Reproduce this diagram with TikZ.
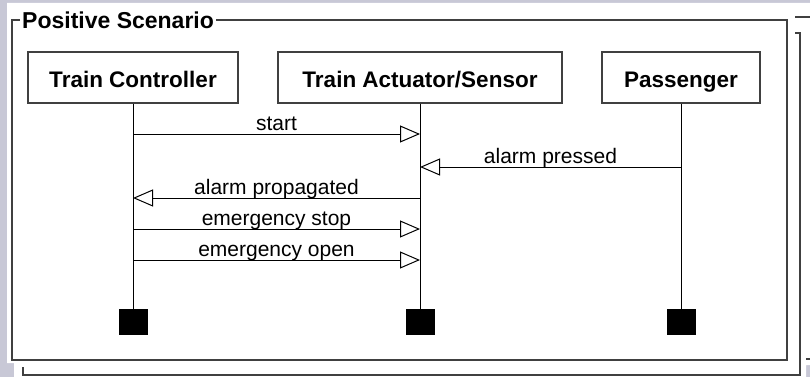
\documentclass[tikz,border=0pt]{standalone}
\usepackage{fontspec}
\setmainfont{Liberation Sans}
\usetikzlibrary{arrows.meta}

\definecolor{screengray}{RGB}{200,200,214}
\definecolor{framegray}{RGB}{64,64,64}

\begin{document}
\begin{tikzpicture}[x=1pt,y=1pt,
  lifebox/.style={draw=framegray,line width=1.2pt,minimum height=51pt,inner sep=0pt,
    text height=19.6pt,text depth=0pt,font=\fontsize{22.5}{27}\selectfont\bfseries},
  endbox/.style={fill=black,minimum width=29pt,minimum height=26pt,inner sep=0pt},
  lifeline/.style={line width=1pt},
  msg/.style={line width=1pt,-{Triangle[open,length=20pt,width=17pt]}},
  msglabel/.style={anchor=base,yshift=4pt,inner sep=0pt,font=\fontsize{21}{25}\selectfont},
  frameline/.style={draw=framegray,line width=1.2pt}]
\useasboundingbox (0,0) rectangle (810,-377);

\fill[screengray] (0,0) rectangle (810,-377);
\fill[white] (7,-3) -- (810,-3) -- (810,-365) -- (806,-365) -- (806,-377)
  -- (14,-377) -- (14,-363) -- (7,-363) -- cycle;

\node[anchor=base west,inner xsep=2pt,inner ysep=0pt,
  font=\fontsize{23}{27}\selectfont\bfseries] (title) at (20,-28.3) {Positive Scenario};
\coordinate (frame-nw) at (12,-20);
\coordinate (frame-se) at (787,-360);
\draw[frameline] (title.west |- frame-nw) -- (frame-nw) |- (frame-se) |- (title.east |- frame-nw);

\draw[frameline] (23,-367) |- (800,-375) |- (795,-33);
\draw[frameline] (795,-17) -- (810,-17);
\draw[frameline] (806,-359) -- (810,-359);

\node[lifebox,minimum width=210pt] (ctrl) at (133,-77.5) {Train Controller};
\node[lifebox,minimum width=284pt] (act) at (420,-77.5) {Train Actuator/Sensor};
\node[lifebox,minimum width=158pt] (pass) at (681,-77.5) {Passenger};

\node[endbox] (ctrl-end) at (133,-322) {};
\node[endbox] (act-end) at (420,-322) {};
\node[endbox] (pass-end) at (681,-322) {};

\draw[lifeline] (ctrl) -- (ctrl-end);
\draw[lifeline] (act) -- (act-end);
\draw[lifeline] (pass) -- (pass-end);

\coordinate (ctrl-start) at (133,-134);
\coordinate (act-start) at (420,-134);
\draw[msg] (ctrl-start) -- node[msglabel] {start} (act-start);

\coordinate (pass-alarm) at (681,-167);
\coordinate (act-alarm) at (420,-167);
\draw[msg] (pass-alarm) -- node[msglabel] {alarm pressed} (act-alarm);

\coordinate (act-prop) at (420,-198);
\coordinate (ctrl-prop) at (133,-198);
\draw[msg] (act-prop) -- node[msglabel] {alarm propagated} (ctrl-prop);

\coordinate (ctrl-stop) at (133,-229);
\coordinate (act-stop) at (420,-229);
\draw[msg] (ctrl-stop) -- node[msglabel] {emergency stop} (act-stop);

\coordinate (ctrl-open) at (133,-260);
\coordinate (act-open) at (420,-260);
\draw[msg] (ctrl-open) -- node[msglabel] {emergency open} (act-open);
\end{tikzpicture}
\end{document}
